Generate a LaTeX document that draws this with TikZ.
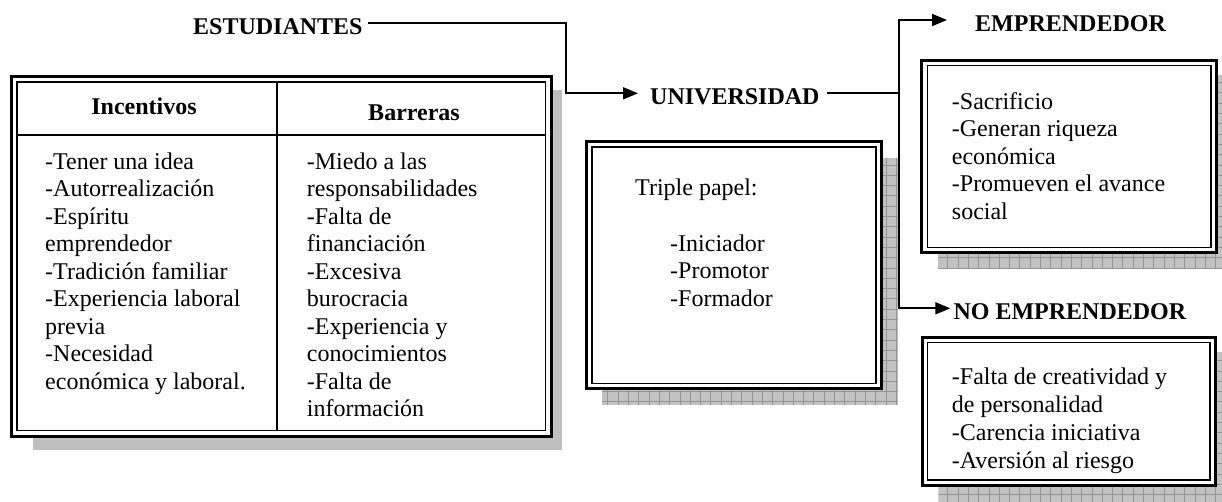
\documentclass[tikz,border=0pt]{standalone}
\usepackage{fontspec}
\setmainfont{Liberation Serif}
\usetikzlibrary{arrows.meta}
\newcommand\mylines[1]{\begin{tabular}[t]{@{}l@{}}#1\end{tabular}}
\newcommand\gridshadow[2]{\begin{scope}\clip #1 rectangle #2;
  \fill[black!24] #1 rectangle #2;
  \draw[black!42,line width=0.5pt,step=10.3pt] #1 grid #2;\end{scope}}
\begin{document}
\begin{tikzpicture}[x=1pt,y=-1pt,
  every node/.style={inner sep=0pt,font=\fontsize{24}{27.5}\selectfont},
  head/.style={font=\fontsize{24}{27.5}\selectfont\bfseries, anchor=west, text height=23pt, text depth=0pt},
  conn/.style={line width=1.8pt},
  arr/.style={conn,-{Triangle[length=15pt,width=12pt]}},
  outerbox/.style={draw, line width=3pt, fill=white},
  innerbox/.style={draw, line width=1.2pt},
  solidshadow/.style={fill=black!25},
  listtext/.style={anchor=base west}]
\useasboundingbox (0,0) rectangle (1222,501);

% ---------- left table ----------
\fill[solidshadow] (33,90) rectangle (562,450);
\draw[outerbox] (11,76) rectangle (551.5,436.5);
\draw[innerbox] (17,82) rectangle (545.5,430.5);
\draw[line width=1.6pt] (17,135) -- (545.5,135);
\draw[line width=1.2pt] (277,82) -- (277,430.5);
\node[anchor=base, font=\fontsize{24}{27.5}\selectfont\bfseries] (inch) at (144,114.5) {Incentivos};
\node[anchor=base, font=\fontsize{24}{27.5}\selectfont\bfseries] (barh) at (414,120) {Barreras};
\node[listtext] (inc) at (45,169) {\mylines{-Tener una idea\\-Autorrealización\\-Espíritu\\emprendedor\\-Tradición familiar\\-Experiencia laboral\\previa\\-Necesidad\\económica y laboral.}};
\node[listtext] (bar) at (306.7,169) {\mylines{-Miedo a las\\responsabilidades\\-Falta de\\financiación\\-Excesiva\\burocracia\\-Experiencia y\\conocimientos\\-Falta de\\información}};

% ---------- universidad box ----------
\gridshadow{(601.7,158.3)}{(898.3,405)}
\draw[outerbox] (586.7,141.7) rectangle (881.7,388.3);
\draw[innerbox] (592,147) rectangle (876,383.3);
\node[listtext] (tp) at (635,195.5) {Triple papel:};
\node[listtext] (roles) at (670,251) {\mylines{-Iniciador\\-Promotor\\-Formador}};

% ---------- emprendedor box ----------
\gridshadow{(938,75)}{(1233,268)}
\draw[outerbox] (921.7,60) rectangle (1216,252.7);
\draw[innerbox] (927.3,65.3) rectangle (1211,247.3);
\node[listtext] (emptext) at (951.7,109) {\mylines{-Sacrificio\\-Generan riqueza\\económica\\-Promueven el avance\\social}};

% ---------- no emprendedor box ----------
\gridshadow{(938.3,351.7)}{(1233,505)}
\draw[outerbox] (922.7,337.3) rectangle (1215.5,485);
\draw[innerbox] (927.7,342.7) rectangle (1210,480);
\node[listtext, font=\fontsize{24}{28.3}\selectfont] (noemptext) at (951.7,384) {\mylines{-Falta de creatividad y\\de personalidad\\-Carencia iniciativa\\-Aversión al riesgo}};

% ---------- headings ----------
\node[head] (est) at (193,23.3) {ESTUDIANTES};
\node[head] (univ) at (650,93.3) {UNIVERSIDAD};
\node[head] (emp) at (975,20) {EMPRENDEDOR};
\node[head] (noemp) at (953.3,308.3) {NO EMPRENDEDOR};

% ---------- connectors ----------
\coordinate (j1) at (566,23.3);
\coordinate (j2) at (899.3,93.3);
\draw[arr] ([xshift=5.5pt]est.east) -- (j1) |- ([xshift=-12pt]univ.west);
\draw[conn] ([xshift=7pt]univ.east) -- (j2);
\draw[arr] (j2) |- ([xshift=-28pt]emp.west);
\draw[arr] (j2) |- ([xshift=-3pt]noemp.west);
\end{tikzpicture}
\end{document}
